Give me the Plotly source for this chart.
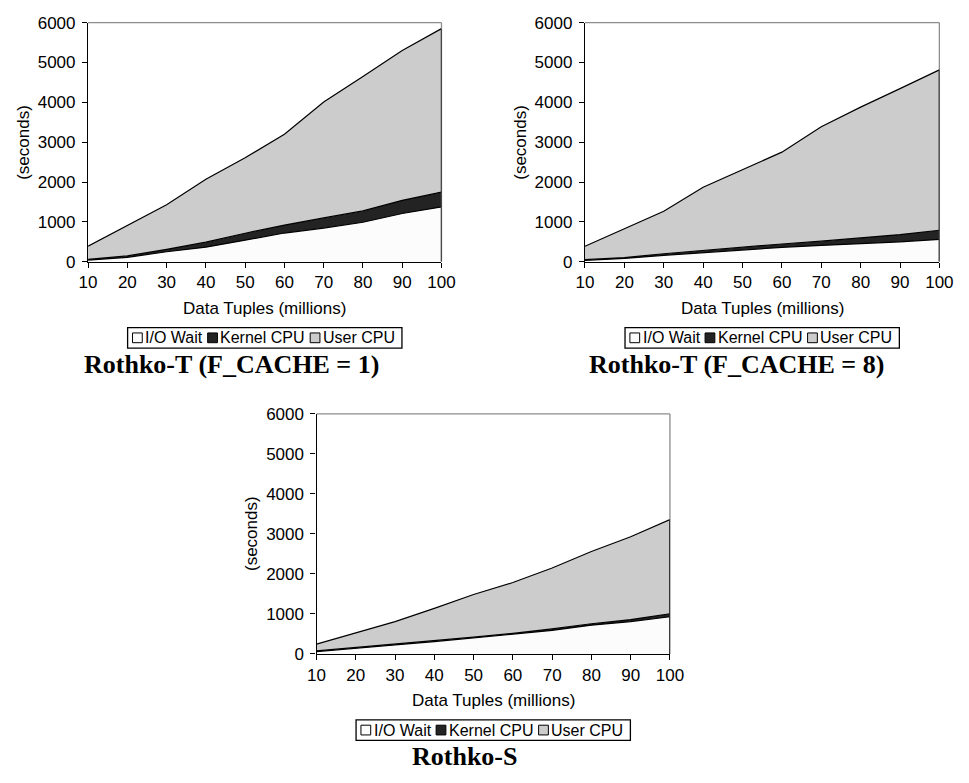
import plotly.graph_objects as go

W, H = 969, 783

tuples = [10, 20, 30, 40, 50, 60, 70, 80, 90, 100]
y_ticks = [0, 1000, 2000, 3000, 4000, 5000, 6000]
series_names = ["I/O Wait", "Kernel CPU", "User CPU"]

# Rothko-T (F_CACHE = 1)
io_t1 = [40, 110, 250, 365, 540, 720, 845, 990, 1210, 1375]
kernel_t1 = [20, 35, 60, 125, 175, 200, 255, 285, 330, 370]
user_t1 = [330, 765, 1120, 1580, 1895, 2280, 2910, 3375, 3760, 4105]

# Rothko-T (F_CACHE = 8)
io_t8 = [35, 82, 160, 230, 300, 360, 410, 450, 500, 560]
kernel_t8 = [15, 23, 40, 55, 65, 85, 105, 145, 180, 230]
user_t8 = [340, 730, 1065, 1585, 1955, 2305, 2875, 3285, 3665, 4025]

# Rothko-S
io_s = [60, 150, 225, 310, 400, 490, 590, 720, 810, 930]
kernel_s = [15, 10, 15, 20, 20, 25, 35, 35, 50, 75]
user_s = [170, 370, 570, 810, 1065, 1270, 1525, 1805, 2070, 2355]

captions = ["Rothko-T (F_CACHE = 1)", "Rothko-T (F_CACHE = 8)", "Rothko-S"]
x_title = "Data Tuples (millions)"
y_title = "(seconds)"

fill_colors = ["#fcfcfc", "#232323", "#cccccc"]
FONT = "Liberation Sans, Arial, sans-serif"
SERIF = "Liberation Serif, Times New Roman, serif"
FS = 17
LFS = 16

# plot-area pixel boxes (left, right, top, bottom)
boxes = [(81, 443, 14, 259), (590, 953, 14, 259), (315, 677, 415, 661)]
caption_cx = [228, 745, 467]

def px(x):
    return x / W

def py(y):
    return 1 - y / H

fig = go.Figure()
data_sets = [(io_t1, kernel_t1, user_t1), (io_t8, kernel_t8, user_t8), (io_s, kernel_s, user_s)]
annotations = []
shapes = []

for k, (vals, box) in enumerate(zip(data_sets, boxes), start=1):
    sfx = "" if k == 1 else str(k)
    for name, v, c in zip(series_names, vals, fill_colors):
        fig.add_trace(go.Scatter(
            x=tuples, y=v, name=name, mode="lines", stackgroup=f"g{k}",
            fillcolor=c, line=dict(color="black", width=1.2),
            xaxis="x" + sfx, yaxis="y" + sfx, showlegend=False,
        ))
    L, R, T, B = box
    fig.layout["xaxis" + sfx] = dict(
        domain=[px(L), px(R)], anchor="y" + sfx, range=[tuples[0], tuples[-1]],
        tickmode="array", tickvals=tuples, ticktext=[str(t) for t in tuples],
        ticks="outside", ticklen=5, tickwidth=1.3, tickcolor="black",
        showline=True, linecolor="black", linewidth=1.3,
        showgrid=False, zeroline=False,
        tickfont=dict(family=FONT, size=FS, color="black"),
    )
    fig.layout["yaxis" + sfx] = dict(
        domain=[py(B), py(T)], anchor="x" + sfx, range=[0, 6000],
        tickmode="array", tickvals=y_ticks, ticktext=[str(t) for t in y_ticks],
        ticks="outside", ticklen=5, tickwidth=1.3, tickcolor="black",
        showline=True, linecolor="black", linewidth=1.3,
        showgrid=False, zeroline=False,
        tickfont=dict(family=FONT, size=FS, color="black"),
        ticklabelstandoff=3,
    )
    xd, yd = "x" + sfx + " domain", "y" + sfx + " domain"
    shapes.append(dict(type="line", xref=xd, yref=yd, x0=0, x1=1, y0=1, y1=1,
                       line=dict(color="#8c8c8c", width=1.3)))
    shapes.append(dict(type="line", xref=xd, yref=yd, x0=1, x1=1, y0=0, y1=1,
                       line=dict(color="#8c8c8c", width=1.3)))
    total_last = vals[0][-1] + vals[1][-1] + vals[2][-1]
    shapes.append(dict(type="line", xref="x" + sfx, yref="y" + sfx,
                       x0=tuples[-1], x1=tuples[-1], y0=0, y1=total_last,
                       line=dict(color="black", width=1.3)))

    cx = (L + R) / 2
    annotations.append(dict(text=x_title, x=px(cx), y=py(B + 48), xref="paper", yref="paper",
                            showarrow=False, xanchor="center", yanchor="middle",
                            font=dict(family=FONT, size=FS, color="black")))
    annotations.append(dict(text=y_title, x=px(L - 66), y=py((T + B) / 2), xref="paper", yref="paper",
                            showarrow=False, xanchor="center", yanchor="middle", textangle=-90,
                            font=dict(family=FONT, size=FS, color="black")))
    # legend box
    lw, lh = 281, 21
    lcy = B + 78
    lx0 = cx - lw / 2
    shapes.append(dict(type="rect", xref="paper", yref="paper",
                       x0=px(lx0), x1=px(lx0 + lw), y0=py(lcy + lh / 2), y1=py(lcy - lh / 2),
                       line=dict(color="black", width=1.3), fillcolor="white"))
    sq_off = [5, 82, 187]
    for off, name, c in zip(sq_off, series_names, fill_colors):
        shapes.append(dict(type="rect", xref="paper", yref="paper",
                           x0=px(lx0 + off), x1=px(lx0 + off + 10),
                           y0=py(lcy + 5), y1=py(lcy - 5),
                           line=dict(color="black", width=1), fillcolor=c))
        annotations.append(dict(text=name, x=px(lx0 + off + 11), y=py(lcy), xref="paper", yref="paper",
                                showarrow=False, xanchor="left", yanchor="middle",
                                font=dict(family=FONT, size=LFS, color="black")))
    annotations.append(dict(text="<b>" + captions[k - 1] + "</b>", x=px(caption_cx[k - 1]), y=py(B + 105),
                            xref="paper", yref="paper", showarrow=False,
                            xanchor="center", yanchor="middle",
                            font=dict(family=SERIF, size=26, color="black")))

fig.update_layout(
    width=W, height=H, margin=dict(l=0, r=0, t=0, b=0),
    paper_bgcolor="white", plot_bgcolor="white",
    annotations=annotations, shapes=shapes, showlegend=False,
)
fig.write_html("out.html")
